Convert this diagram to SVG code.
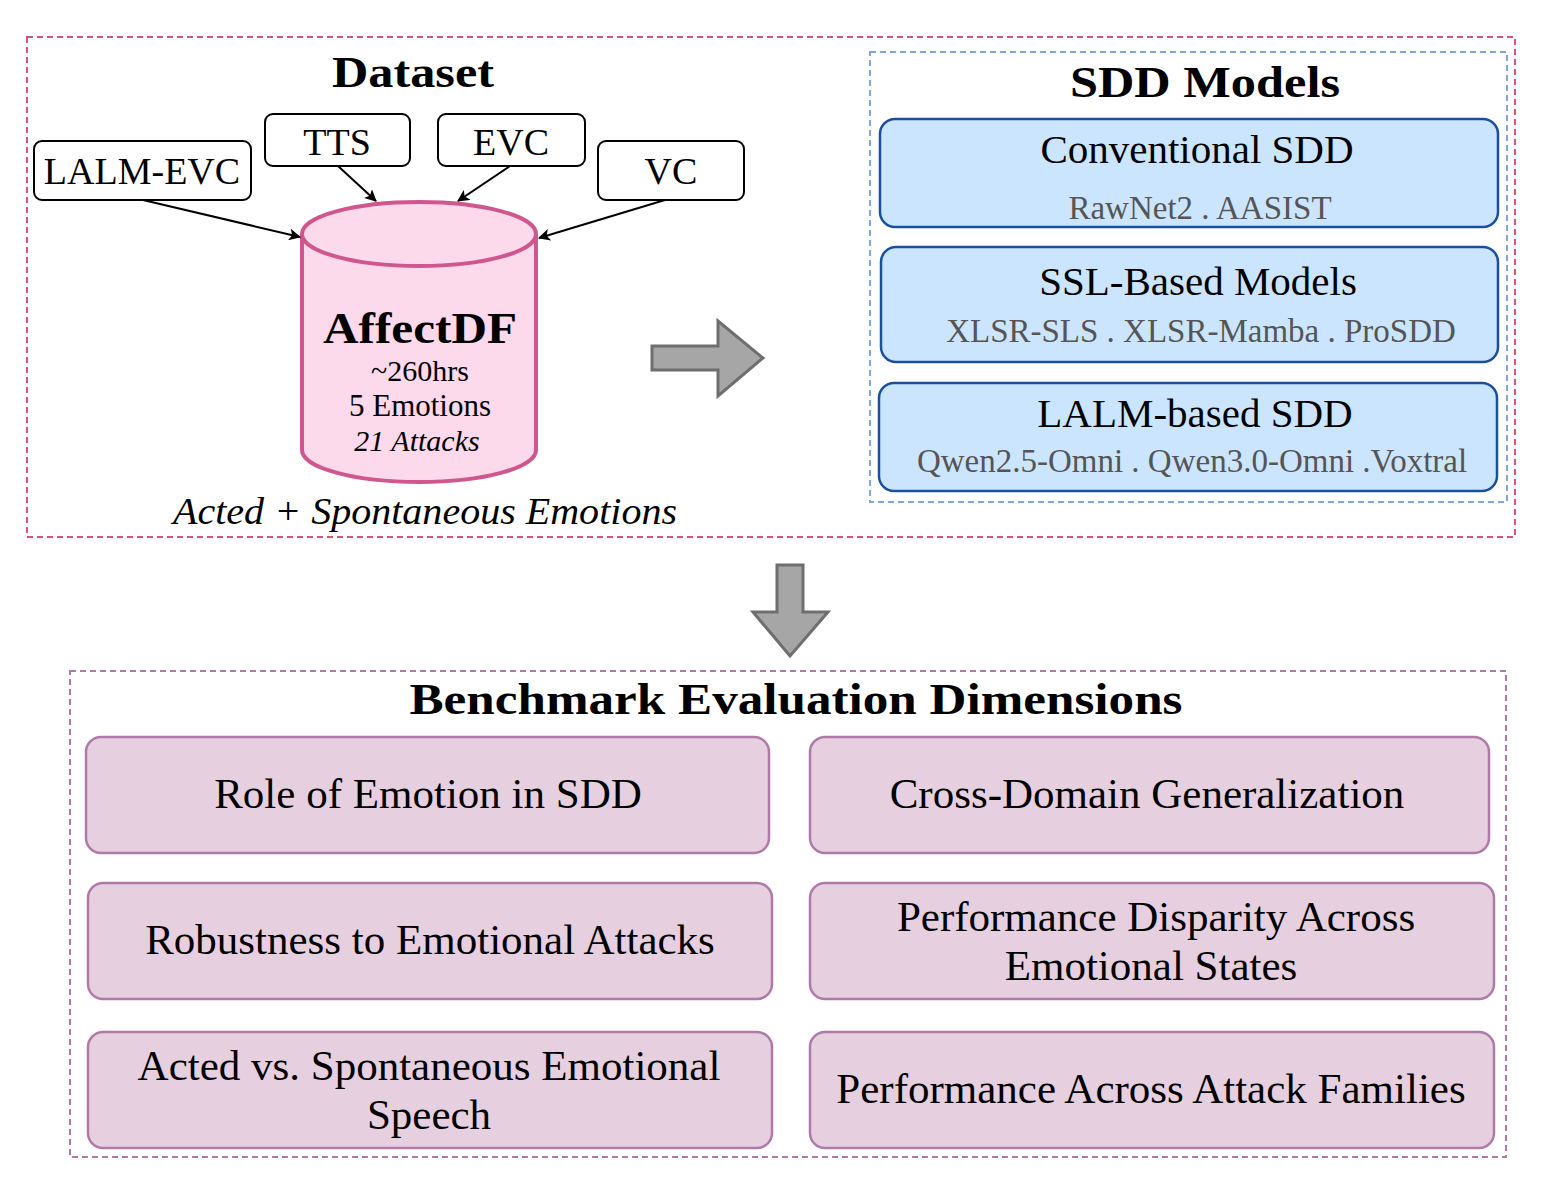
<svg xmlns="http://www.w3.org/2000/svg" width="1542" height="1180" viewBox="0 0 1542 1180">
<defs>
<style>
text{font-family:"Liberation Serif","DejaVu Serif",serif;text-anchor:middle;fill:#000}
.t{font-weight:bold;font-size:44px}
.src{fill:#fff;stroke:#000;stroke-width:2}
.src-t{font-size:38px}
.blue{fill:#cce5ff;stroke:#1a4f9c;stroke-width:2.5}
.bt{font-size:41px}
.bs{font-size:33px;fill:#555}
.pur{fill:#e6d0e0;stroke:#b07aa8;stroke-width:2.5}
.pt{font-size:43px}
.con{stroke:#000;stroke-width:2;fill:none;marker-end:url(#ah)}
.blk{fill:#a6a6a6;stroke:#6e6e6e;stroke-width:3}
</style>
<marker id="ah" markerWidth="12" markerHeight="12" refX="11" refY="6" orient="auto" markerUnits="userSpaceOnUse" viewBox="0 0 12 12"><path d="M0,0 L12,6 L0,12 L3,6 Z" fill="#000"/></marker>
</defs>
<rect width="1542" height="1180" fill="#fff"/>
<rect x="27" y="37" width="1488" height="500" fill="none" stroke="#d6557f" stroke-width="2" stroke-dasharray="6,4"/>
<text class="t" x="413" y="87" textLength="162" lengthAdjust="spacingAndGlyphs">Dataset</text>
<g id="lalm-evc"><rect class="src" x="34" y="141" width="217" height="59" rx="8"/><text class="src-t" x="142" y="184">LALM-EVC</text></g>
<g id="tts"><rect class="src" x="265" y="114" width="145" height="52" rx="8"/><text class="src-t" x="337" y="155">TTS</text></g>
<g id="evc"><rect class="src" x="438" y="114" width="147" height="52" rx="8"/><text class="src-t" x="511" y="155">EVC</text></g>
<g id="vc"><rect class="src" x="598" y="141" width="146" height="59" rx="8"/><text class="src-t" x="671" y="184">VC</text></g>
<g id="affectdf">
<path d="M302,234 L302,450 A117,32 0 0 0 536,450 L536,234" fill="#fdd9ec" stroke="#d0578e" stroke-width="4"/>
<ellipse cx="419" cy="234" rx="117" ry="32" fill="#fdd9ec" stroke="#d0578e" stroke-width="4"/>
<text x="420" y="343" font-weight="bold" font-size="44" textLength="194" lengthAdjust="spacingAndGlyphs">AffectDF</text>
<text x="420" y="381" font-size="30">~260hrs</text>
<text x="420" y="416" font-size="31">5 Emotions</text>
<text x="417" y="451" font-size="30" font-style="italic">21 Attacks</text>
</g>
<text x="425" y="524" font-size="37" font-style="italic" textLength="504" lengthAdjust="spacingAndGlyphs">Acted + Spontaneous Emotions</text>
<g id="connectors">
<path class="con" d="M143,200 L300,237"/>
<path class="con" d="M338,166 L376,201"/>
<path class="con" d="M510,166 L458,201"/>
<path class="con" d="M665,200 L539,238"/>
<path class="blk" d="M652,346 L718,346 L718,321 L763,358 L718,396 L718,370 L652,370 Z"/>
<path class="blk" d="M777,565 L803,565 L803,612 L828,612 L790,656 L753,612 L777,612 Z"/>
</g>
<rect x="870" y="52" width="637" height="450" fill="none" stroke="#7fa6d6" stroke-width="2" stroke-dasharray="6,4"/>
<text class="t" x="1205" y="97" textLength="270" lengthAdjust="spacingAndGlyphs">SDD Models</text>
<g id="conv"><rect class="blue" x="880" y="119" width="618" height="108" rx="15"/><text class="bt" x="1197" y="163">Conventional SDD</text><text class="bs" x="1200" y="219">RawNet2 . AASIST</text></g>
<g id="ssl"><rect class="blue" x="881" y="247" width="617" height="115" rx="15"/><text class="bt" x="1198" y="295">SSL-Based Models</text><text class="bs" x="1201" y="342">XLSR-SLS . XLSR-Mamba . ProSDD</text></g>
<g id="lalm"><rect class="blue" x="879" y="383" width="618" height="108" rx="15"/><text class="bt" x="1195" y="427">LALM-based SDD</text><text class="bs" x="1192" y="472">Qwen2.5-Omni . Qwen3.0-Omni .Voxtral</text></g>
<rect x="70" y="671" width="1436" height="486" fill="none" stroke="#b07aa8" stroke-width="2" stroke-dasharray="6,4"/>
<text class="t" x="796" y="714" textLength="773" lengthAdjust="spacingAndGlyphs">Benchmark Evaluation Dimensions</text>
<g id="d1"><rect class="pur" x="86" y="737" width="683" height="116" rx="15"/><text class="pt" x="428" y="808">Role of Emotion in SDD</text></g>
<g id="d2"><rect class="pur" x="810" y="737" width="679" height="116" rx="15"/><text class="pt" x="1147" y="808">Cross-Domain Generalization</text></g>
<g id="d3"><rect class="pur" x="88" y="883" width="684" height="116" rx="15"/><text class="pt" x="430" y="954">Robustness to Emotional Attacks</text></g>
<g id="d4"><rect class="pur" x="810" y="883" width="684" height="116" rx="15"/><text class="pt" x="1156" y="931">Performance Disparity Across</text><text class="pt" x="1151" y="980">Emotional States</text></g>
<g id="d5"><rect class="pur" x="88" y="1032" width="684" height="116" rx="15"/><text class="pt" x="429" y="1080">Acted vs. Spontaneous Emotional</text><text class="pt" x="429" y="1129">Speech</text></g>
<g id="d6"><rect class="pur" x="810" y="1032" width="684" height="116" rx="15"/><text class="pt" x="1151" y="1103">Performance Across Attack Families</text></g>
</svg>
